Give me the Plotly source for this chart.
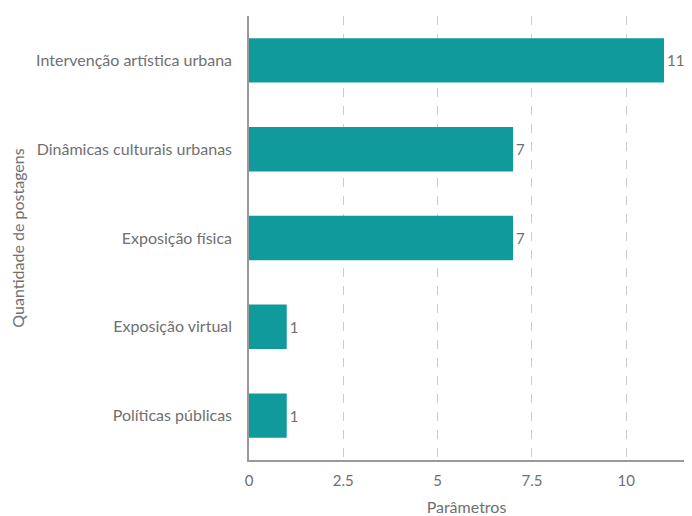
import plotly.graph_objects as go

categories = ["Intervenção artística urbana", "Dinâmicas culturais urbanas",
              "Exposição física", "Exposição virtual", "Políticas públicas"]
values = [11, 7, 7, 1, 1]
x_ticks = [0, 2.5, 5, 7.5, 10]
x_tick_labels = ["0", "2.5", "5", "7.5", "10"]

fig = go.Figure(go.Bar(
    x=values, y=categories, orientation="h",
    marker=dict(color="#109a9c", line=dict(width=0)),
    text=[str(v) for v in values], textposition="outside",
    textfont=dict(color="#707070", size=15, family="Lato"),
    cliponaxis=False,
))

fig.update_layout(
    width=676, height=508,
    margin=dict(l=241, r=0, t=8, b=56),
    paper_bgcolor="white", plot_bgcolor="white",
    font=dict(family="Lato", color="#707070", size=16),
    bargap=0.5,
    showlegend=False,
    xaxis=dict(
        range=[0, 11.53], tickvals=x_ticks, ticktext=x_tick_labels,
        showgrid=True, gridcolor="#cccccc", griddash="dash", gridwidth=1,
        showline=True, linecolor="#999999", linewidth=1.5,
        zeroline=False, ticks="", ticklen=0,
        ticklabelstandoff=6,
        title=dict(text="Parâmetros", standoff=14, font=dict(size=16, color="#707070")),
        tickfont=dict(size=15, color="#707070"),
    ),
    yaxis=dict(
        categoryorder="array", categoryarray=categories[::-1],
        range=[-0.5, 4.5],
        showline=True, linecolor="#999999", linewidth=1.5,
        showgrid=False, zeroline=False, ticks="", ticklen=0,
        ticklabelstandoff=12,
        title=dict(text="Quantidade de postagens", standoff=16, font=dict(size=16, color="#707070")),
        tickfont=dict(size=16, color="#707070"),
    ),
)

fig.write_html("out.html")
